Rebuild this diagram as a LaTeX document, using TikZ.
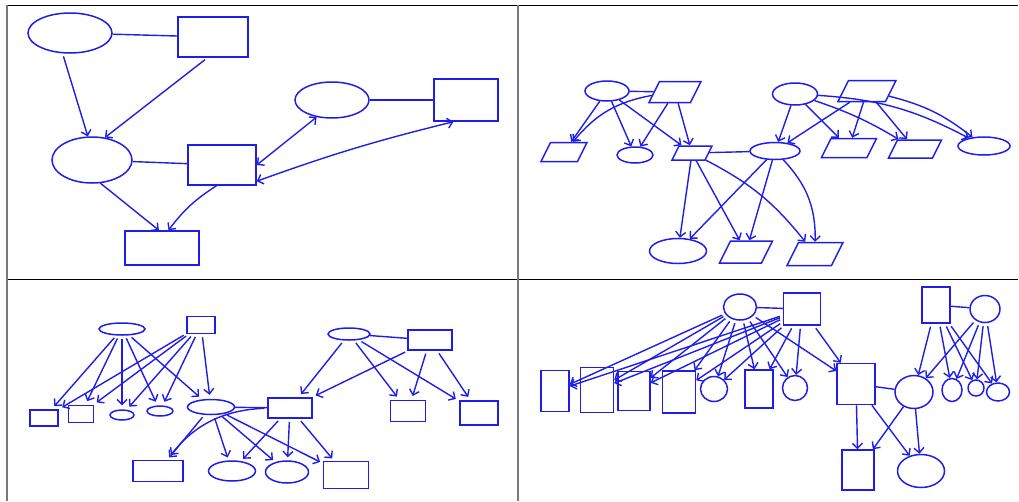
\documentclass[tikz,border=0pt]{standalone}
\usetikzlibrary{arrows.meta,shapes.geometric}
\definecolor{pen}{RGB}{30,30,230}
\definecolor{frameg}{RGB}{120,120,120}
\tikzset{
  ell/.style={draw=pen,line width=1.5pt,ellipse,inner sep=0pt},
  box/.style={draw=pen,line width=1.5pt,rectangle,inner sep=0pt},
  arr/.style={draw=pen,line width=1.4pt,-{Straight Barb[length=5pt,width=10pt]}},
  darr/.style={draw=pen,line width=1.4pt,{Straight Barb[length=5pt,width=10pt]}-{Straight Barb[length=5pt,width=10pt]}},
  link/.style={draw=pen,line width=1.4pt},
  gap/.style={shorten <=3pt}
}
% parallelogram node: name, position, total width, height
\newcommand\myparabox[4]{%
  \begin{scope}[shift={(#2)},xslant=0.5]
    \pgfmathsetmacro\pbw{#3-0.5*#4}
    \node[box,transform shape,minimum width=\pbw pt,minimum height=#4pt] (#1) at (0,0) {};
  \end{scope}}
\begin{document}
\begin{tikzpicture}[x=1pt,y=-1pt]
\useasboundingbox (0,0) rectangle (1019,501);
% frame
\draw[black,line width=1pt] (7,5) -- (1018,5);
\draw[black,line width=1pt] (7,279.5) -- (1018,279.5);
\draw[frameg,line width=2pt] (6.5,5) -- (6.5,501);
\draw[frameg,line width=2pt] (517.5,5) -- (517.5,501);

% ---------------- Panel 1 ----------------
\node[ell,minimum width=84pt,minimum height=40pt] (p1a) at (70,33) {};
\node[box,minimum width=70pt,minimum height=40pt] (p1b) at (213,37) {};
\node[ell,minimum width=80pt,minimum height=46pt] (p1c) at (92,160) {};
\node[box,minimum width=68pt,minimum height=40pt] (p1d) at (222,165) {};
\node[box,minimum width=74pt,minimum height=34pt] (p1e) at (162,248) {};
\node[ell,minimum width=74pt,minimum height=36pt] (p1f) at (332,100) {};
\node[box,minimum width=64pt,minimum height=42pt] (p1g) at (466,100) {};
\draw[link] (p1a) -- (p1b);
\draw[link] (p1c) -- (p1d);
\draw[link] (p1f) -- (p1g);
\draw[arr,gap] (p1a.250) -- (p1c.100);
\draw[arr,gap] (p1b.255) -- (p1c.60);
\draw[darr] (p1f.228) -- (p1d.east);
\draw[darr] (p1g.240) to[bend right=3] (p1d.-25);
\draw[arr] (p1c.290) -- (p1e.100);
\draw[arr] (p1d.255) to[bend right=10] (p1e.70);

% ---------------- Panel 2 ----------------
\node[ell,minimum width=44pt,minimum height=20pt] (h1) at (607,91) {};
\myparabox{h2}{675,92}{52}{21}
\myparabox{q1}{564,152}{46}{19}
\node[ell,minimum width=36pt,minimum height=16pt] (f1) at (635,155) {};
\myparabox{q2}{692,153}{40}{14}
\node[ell,minimum width=50pt,minimum height=17pt] (f2) at (775,151) {};
\node[ell,minimum width=45pt,minimum height=22pt] (f3) at (795,94) {};
\myparabox{q3}{867,91}{58}{21}
\myparabox{q4}{849,148}{55}{19}
\myparabox{q5}{915,149}{53}{18}
\node[ell,minimum width=52pt,minimum height=18pt] (f4) at (984,146) {};
\node[ell,minimum width=57pt,minimum height=25pt] (f5) at (678,251) {};
\myparabox{q6}{746,252}{53}{22}
\myparabox{q7}{815,254}{56}{23}
\draw[link] (h1) -- (h2);
\draw[link] (q2) -- (f2);
\draw[arr] (h1) -- (q1);
\draw[arr] (h2) to[bend right=20] (q1);
\draw[arr] (h1) -- (f1);
\draw[arr] (h2) -- (f1);
\draw[arr] (h1) -- (q2);
\draw[arr] (h2) -- (q2);
\draw[arr] (q3) -- (f2);
\draw[arr] (f3) -- (f2);
\draw[arr] (f3) -- (q4);
\draw[arr] (q3) -- (q4);
\draw[arr] (f3) to[bend left=6] (q5);
\draw[arr] (q3) -- (q5);
\draw[arr] (f3) to[bend left=12] (f4);
\draw[arr] (q3) to[bend left=12] (f4);
\draw[arr] (q2) -- (f5);
\draw[arr] (q2) -- (q6);
\draw[arr] (q2) to[bend left=12] (q7);
\draw[arr] (f2) -- (f5);
\draw[arr] (f2) -- (q6);
\draw[arr] (f2) to[bend left=22] (q7);

% ---------------- Panel 3 ----------------
\node[ell,minimum width=46pt,minimum height=12pt] (e1) at (122,329) {};
\node[box,minimum width=28pt,minimum height=17pt] (r1) at (201,325) {};
\node[box,minimum width=28pt,minimum height=16pt] (r2) at (44,418) {};
\node[box,minimum width=25pt,minimum height=17pt] (r3) at (81,414) {};
\node[ell,minimum width=24pt,minimum height=10pt] (e2) at (122,415) {};
\node[ell,minimum width=26pt,minimum height=10pt] (e3) at (160,411) {};
\node[ell,minimum width=47pt,minimum height=15pt] (e4) at (211,407) {};
\node[box,minimum width=44pt,minimum height=20pt] (r4) at (290,408) {};
\node[ell,minimum width=42pt,minimum height=12pt] (e5) at (349,334) {};
\node[box,minimum width=44pt,minimum height=20pt] (r5) at (430,340) {};
\node[box,minimum width=35pt,minimum height=21pt] (r6) at (408,411) {};
\node[box,minimum width=38pt,minimum height=24pt] (r7) at (479,413) {};
\node[box,minimum width=50pt,minimum height=21pt] (r8) at (158,471) {};
\node[ell,minimum width=47pt,minimum height=20pt] (e6) at (232,471) {};
\node[ell,minimum width=43pt,minimum height=22pt] (e7) at (287,472) {};
\node[box,minimum width=45pt,minimum height=27pt] (r9) at (346,475) {};
\draw[link] (e4) -- (r4);
\draw[link] (e5) -- (r5);
\foreach \t in {r2,r3,e2,e3,e4} {
  \draw[arr,gap,shorten >=4pt] (e1) -- (\t);
  \draw[arr,gap,shorten >=4pt] (r1) -- (\t);
}
\draw[arr,gap,shorten >=3pt] (e4) -- (r8);
\draw[arr,gap,shorten >=3pt] (e4) -- (e6);
\draw[arr,gap,shorten >=3pt] (e4) -- (e7);
\draw[arr,gap,shorten >=3pt] (e4) -- (r9);
\draw[arr,gap,shorten >=6pt] (r4) to[bend right=25] (r8);
\draw[arr,gap,shorten >=3pt] (r4) -- (e6);
\draw[arr,gap,shorten >=3pt] (r4) -- (e7);
\draw[arr,gap,shorten >=3pt] (r4) -- (r9);
\draw[arr,gap,shorten >=4pt] (e5) -- (r4);
\draw[arr,gap,shorten >=4pt] (r5) -- (r4);
\draw[arr,gap,shorten >=4pt] (e5) -- (r6);
\draw[arr,gap,shorten >=4pt] (r5) -- (r6);
\draw[arr,gap,shorten >=4pt] (e5) -- (r7);
\draw[arr,gap,shorten >=4pt] (r5) -- (r7);

% ---------------- Panel 4 ----------------
\node[ell,minimum width=33pt,minimum height=26pt] (c1) at (740,307) {};
\node[box,minimum width=37pt,minimum height=32pt] (s1) at (802,309) {};
\node[box,minimum width=28pt,minimum height=41pt] (t1) at (555,391) {};
\node[box,minimum width=33pt,minimum height=45pt] (t2) at (597,390) {};
\node[box,minimum width=32pt,minimum height=39pt] (t3) at (634,391) {};
\node[box,minimum width=33pt,minimum height=42pt] (t4) at (679,392) {};
\node[ell,minimum width=27pt,minimum height=25pt] (o1) at (714,389) {};
\node[box,minimum width=28pt,minimum height=38pt] (t5) at (759,389) {};
\node[ell,minimum width=25pt,minimum height=25pt] (o2) at (795,388) {};
\node[box,minimum width=38pt,minimum height=41pt] (s2) at (856,384) {};
\node[ell,minimum width=38pt,minimum height=33pt] (o3) at (914,392) {};
\node[box,minimum width=28pt,minimum height=36pt] (s3) at (936,305) {};
\node[ell,minimum width=30pt,minimum height=27pt] (o4) at (985,309) {};
\node[ell,minimum width=20pt,minimum height=23pt] (o5) at (952,390) {};
\node[ell,minimum width=16pt,minimum height=16pt] (o6) at (976,388) {};
\node[ell,minimum width=23pt,minimum height=18pt] (o7) at (998,392) {};
\node[box,minimum width=32pt,minimum height=40pt] (s4) at (858,470) {};
\node[ell,minimum width=47pt,minimum height=33pt] (o8) at (921,471) {};
\draw[link] (c1) -- (s1);
\draw[link] (s2) -- (o3);
\draw[link] (s3) -- (o4);
\foreach \t in {t1,t2,t3,t4,o1,t5,o2,s2} {
  \draw[arr,gap] (c1) -- (\t);
  \draw[arr,gap] (s1) -- (\t);
}
\foreach \t in {o3,o5,o6,o7} {
  \draw[arr,gap] (s3) -- (\t);
  \draw[arr,gap] (o4) -- (\t);
}
\draw[arr] (s2) -- (s4);
\draw[arr] (s2) -- (o8);
\draw[arr] (o3) -- (s4);
\draw[arr] (o3) -- (o8);
\end{tikzpicture}
\end{document}
